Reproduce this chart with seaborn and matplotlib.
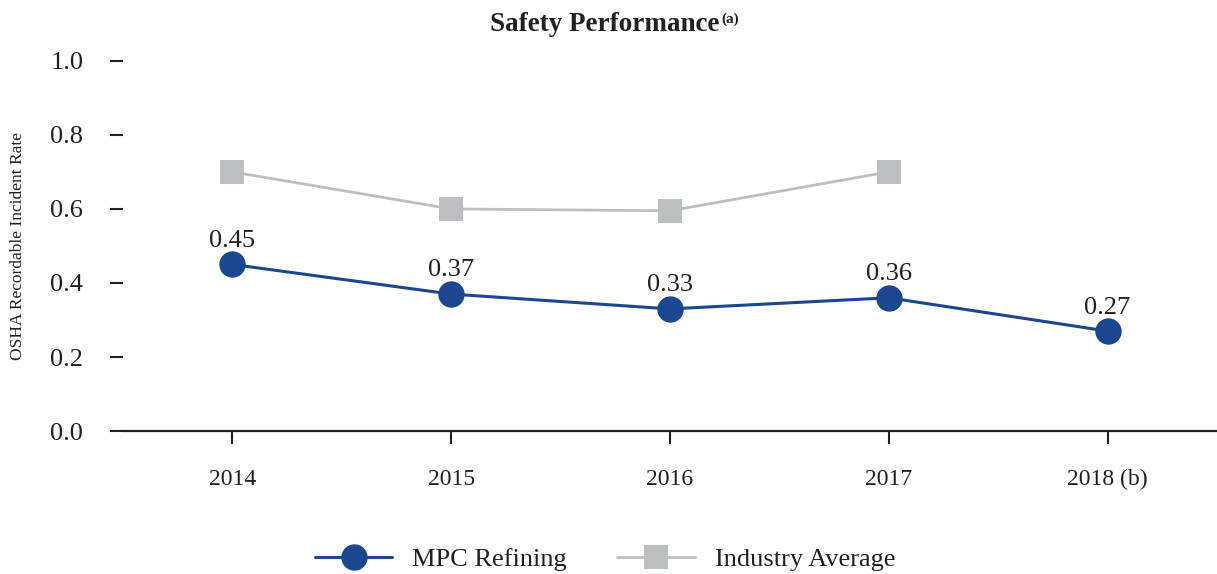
import pandas as pd
import numpy as np
import matplotlib.pyplot as plt
from matplotlib.lines import Line2D
import seaborn as sns

# chart values
years = ["2014", "2015", "2016", "2017", "2018 (b)"]
mpc_refining = [0.45, 0.37, 0.33, 0.36, 0.27]
industry_avg = [0.70, 0.60, 0.595, 0.70, np.nan]
y_ticks = [0.0, 0.2, 0.4, 0.6, 0.8, 1.0]

blue = "#1b4690"
gray = "#bdbec0"

df = pd.DataFrame({
    "year": years * 2,
    "pos": list(range(len(years))) * 2,
    "rate": mpc_refining + industry_avg,
    "series": ["MPC Refining"] * len(years) + ["Industry Average"] * len(years),
})

sns.set_style("ticks")
plt.rcParams["font.family"] = ["Liberation Serif", "DejaVu Serif"]

fig = plt.figure(figsize=(12.17, 5.74), dpi=100)
ax = fig.add_axes([0.101, 0.249, 0.899, 0.645])

sns.lineplot(data=df, x="pos", y="rate", hue="series", style="series",
             palette={"MPC Refining": blue, "Industry Average": gray},
             markers={"MPC Refining": "o", "Industry Average": "s"},
             dashes=False, markersize=19, markeredgewidth=0,
             linewidth=2.2, legend=False, ax=ax, clip_on=False)
ax.lines[1].set_markersize(17)
ax.lines[1].set_linewidth(2.0)

for i, v in enumerate(mpc_refining):
    ax.annotate(f"{v:.2f}", (i, v), xytext=(0, 17), textcoords="offset points",
                ha="center", va="center", fontsize=19, color="#231f20")

ax.set_xlim(-0.5, 4.5)
ax.set_ylim(0, 1.0)
ax.set_xticks(range(len(years)))
ax.set_xticklabels(years)
ax.set_yticks(y_ticks)
ax.set_yticklabels([f"{t:.1f}" for t in y_ticks])
ax.tick_params(axis="y", length=9.5, width=1.5, pad=19, labelsize=19,
               color="#231f20", labelcolor="#231f20")
ax.tick_params(axis="x", length=9, width=1.5, pad=18, labelsize=17,
               color="#231f20", labelcolor="#231f20")
for s in ["left", "top", "right"]:
    ax.spines[s].set_visible(False)
ax.spines["bottom"].set_linewidth(1.6)
ax.spines["bottom"].set_color("#231f20")
ax.set_xlabel("")
ax.set_ylabel("")

fig.text(0.015, 0.571, "OSHA Recordable Incident Rate", rotation=90,
         ha="center", va="center", fontsize=12.5, color="#231f20")

t = fig.text(0.497, 0.958, "Safety Performance", ha="center", va="center",
             fontsize=19.5, fontweight="bold", color="#231f20")
ax.annotate("(a)", xy=(1, 0.7), xycoords=t, xytext=(1, 0), textcoords="offset points",
            ha="left", va="center", fontsize=11, fontweight="bold", color="#231f20")

handles = [
    Line2D([], [], color=blue, lw=2.2, marker="o", markersize=19, markeredgewidth=0),
    Line2D([], [], color=gray, lw=2.0, marker="s", markersize=17, markeredgewidth=0),
]
fig.legend(handles, ["MPC Refining", "Industry Average"], loc="center",
           bbox_to_anchor=(0.497, 0.026), ncol=2, frameon=False, fontsize=19,
           handlelength=2.95, handletextpad=0.75, columnspacing=1.9,
           labelcolor="#231f20")

plt.savefig("out.png", dpi=100)
